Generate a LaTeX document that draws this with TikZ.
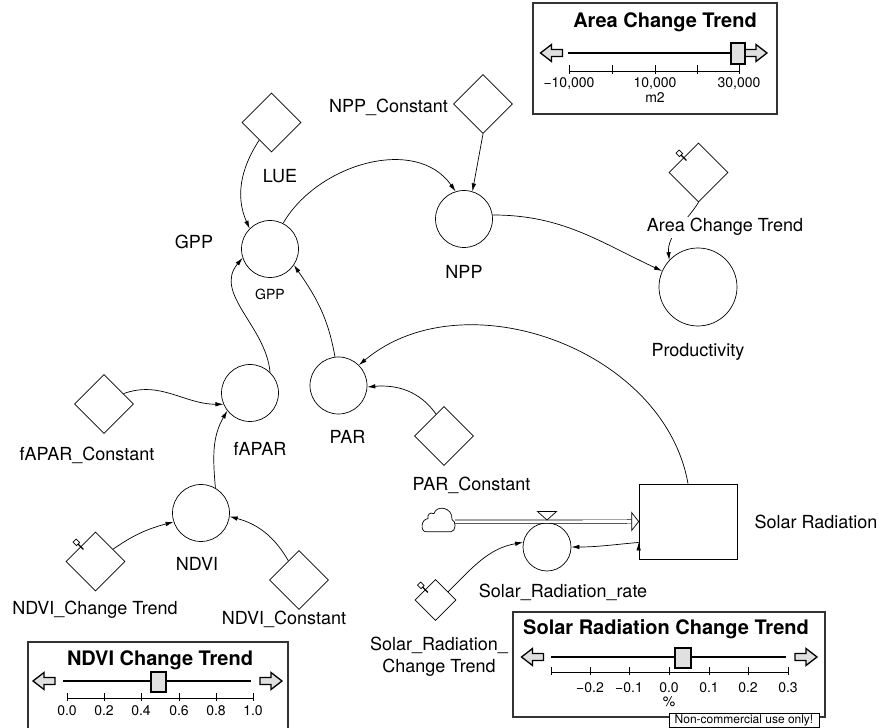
\documentclass[tikz,border=0pt]{standalone}
\usepackage{fontspec}
\setmainfont{TeX Gyre Heros}
\usetikzlibrary{shapes.geometric, positioning, arrows.meta}

\tikzset{
  auxvar/.style={circle, draw, minimum size=57pt, inner sep=0pt},
  constvar/.style={diamond, draw, minimum size=59pt, inner sep=0pt},
  stockbox/.style={rectangle, draw, minimum width=98pt, minimum height=75pt, inner sep=0pt},
  lbl/.style={font=\fontsize{18}{22}\selectfont, inner sep=1pt, anchor=base},
  paneltitle/.style={font=\bfseries\fontsize{20}{24}\selectfont, inner sep=0pt, anchor=base},
  ticklbl/.style={font=\fontsize{14}{16}\selectfont, inner sep=0pt, anchor=base},
  panel/.style={draw=black!80, line width=1.2pt},
  track/.style={line width=1.8pt},
  thumb/.style={draw, line width=1.5pt, fill=black!12},
  fatarrow/.pic={\draw[line width=1.3pt, fill=black!12] (-11,-3.5) -- (0,-3.5) -- (0,-8.5) -- (11,0) -- (0,8.5) -- (0,3.5) -- (-11,3.5) -- cycle;},
  tackmark/.pic={\draw[line width=1.3pt] (0,-4) -- (0,3.5); \draw (-2.2,3.5) rectangle (2.2,8.5);}
}

\begin{document}
\begin{tikzpicture}[x=1pt, y=1pt, line width=0.7pt, >={Latex[length=8pt,width=4.5pt]}]
\useasboundingbox (0,0) rectangle (887,728);

% converters
\node[auxvar] (gpp) at (270,479) {};
\node[auxvar] (npp) at (464,509) {};
\node[auxvar, minimum size=78pt] (prod) at (698,441) {};
\node[auxvar] (fapar) at (250,335) {};
\node[auxvar] (par) at (338.5,342.5) {};
\node[auxvar] (ndvi) at (201,215) {};
\node[auxvar, minimum size=48pt] (rate) at (547,181) {};
\node[stockbox] (stock) at (688,206.5) {};

% constants
\node[constvar] (lue) at (271.5,605.5) {};
\node[constvar] (nppc) at (483,624) {};
\node[constvar] (areac) at (698.5,555.5) {};
\node[constvar] (faparc) at (104,324) {};
\node[constvar] (ndvict) at (95.5,166.5) {};
\node[constvar] (ndvic) at (299,148) {};
\node[constvar] (parc) at (444,292) {};
\node[constvar, minimum size=41pt] (solarct) at (435.5,128) {};

% slider-driven inputs
\pic[rotate=45] at (areac.north west) {tackmark};
\pic[rotate=45] at (ndvict.north west) {tackmark};
\pic[rotate=45] at (solarct.north west) {tackmark};

% inflow into the stock
\draw[shift={(422,196.3)}] (4,0) -- (29,0) .. controls (34,0) and (34.5,11) .. (30,12)
  .. controls (31,25) and (14,27) .. (12,18) .. controls (8,20) and (5,17) .. (6,13)
  .. controls (-1,13) and (-2,0) .. (4,0) -- cycle;
\coordinate (src) at (455,206.3);
\draw[double, double distance=2.6pt] (src) -- ([xshift=-7pt]stock.west);
\draw[fill=white] ([shift={(-7,9)}]stock.west) -- (stock.west) -- ([shift={(-7,-9)}]stock.west) -- cycle;
\draw[fill=white] (537.5,216.5) -- (556.5,216.5) -- (547,208) -- cycle;

% links
\draw[->] (lue.235) edge[out=237, in=114] (gpp.135)
  (gpp.63) edge[out=60, in=125] (npp.107)
  (nppc.south) edge (npp.73)
  (npp.8) edge[out=0, in=155] (prod.156)
  (areac.south) edge[out=238, in=95] (prod.137)
  (fapar.46) edge[out=95, in=230] (gpp.198)
  (par.97) edge[out=100, in=-55] (gpp.-34)
  (stock.north) edge[out=100, in=40] (par.45)
  (parc.110) edge[out=125, in=5] (par.-3)
  (faparc.28) edge[out=20, in=180] (fapar.203)
  (ndvi.60) edge[out=95, in=240] (fapar.218)
  (ndvict.35) edge[out=35, in=195] (ndvi.198)
  (ndvic.119) edge[out=120, in=-15] (ndvi.-7)
  (solarct.33) edge[out=45, in=190] (rate.169)
  (stock.203) edge[out=185, in=0] (rate.east);

% names
\node[lbl] (luelbl) at (280,545) {LUE};
\node[lbl] (nppclbl) at (388.5,615) {NPP\_Constant};
\node[lbl] (gpplbl) at (194,479) {GPP};
\node[font=\fontsize{14}{16}\selectfont, inner sep=1pt, below=10pt of gpp] (gppunit) {GPP};
\node[lbl, below=16.5pt of npp] (npplbl) {NPP};
\node[lbl, fill=white, inner sep=2pt] (areaclbl) at (725,496) {Area Change Trend};
\node[lbl, below=16pt of prod] (prodlbl) {Productivity};
\node[lbl] (faparclbl) at (87,267) {fAPAR\_Constant};
\node[lbl, below=19.5pt of fapar, xshift=10pt] (faparlbl) {fAPAR};
\node[lbl, below=15pt of par, xshift=9pt] (parlbl) {PAR};
\node[lbl, below=14pt of ndvi, xshift=-4pt] (ndvilbl) {NDVI};
\node[lbl] (ndvictlbl) at (95,113) {NDVI\_Change Trend};
\node[lbl] (ndviclbl) at (284,103) {NDVI\_Constant};
\node[lbl] (parclbl) at (471.5,237) {PAR\_Constant};
\node[lbl, right=16pt of stock] (stocklbl) {Solar Radiation};
\node[lbl] (ratelbl) at (563,130) {Solar\_Radiation\_rate};
\node[lbl, anchor=north, align=center] (solarctlbl) at (439,92) {Solar\_Radiation\_\\Change Trend};

% slider: area change trend
\draw[panel] (533,614) rectangle (777,725);
\node[paneltitle] (areatitle) at (665,700) {Area Change Trend};
\pic[rotate=180] at (551.5,675) {fatarrow};
\draw[track] (568,675) -- (731,675);
\pic at (756,675) {fatarrow};
\draw (569,657) -- (739,657);
\foreach \x in {569,612,655,697,739} \draw (\x,654) -- (\x,663);
\draw[thumb] (731,664) rectangle (745,685);
\node[ticklbl] (areamin) at (569,640) {−10,000};
\node[ticklbl] (areamid) at (655,640) {10,000};
\node[ticklbl] (areamax) at (739,640) {30,000};
\node[ticklbl] (areaunit) at (655,625.5) {m2};

% slider: solar radiation change trend
\draw[panel] (513,11) rectangle (825,116);
\node[paneltitle] (solartitle) at (666,93) {Solar Radiation Change Trend};
\pic[rotate=180] at (532.5,71) {fatarrow};
\draw[track] (551,71) -- (786,71);
\pic at (806,71) {fatarrow};
\draw (551,56) -- (788,56);
\foreach \x in {551,590,629,669,709,748,788} \draw (\x,53) -- (\x,61);
\draw[thumb] (675,60) rectangle (691,80);
\foreach \x/\v [count=\i] in {590/−0.2, 629/−0.1, 669/0.0, 709/0.1, 748/0.2, 788/0.3}
  \node[ticklbl] (solartick\i) at (\x,35) {\v};
\node[ticklbl] (solarunit) at (669,21) {\%};
\node[draw, fill=white, inner sep=0pt, minimum width=150pt, minimum height=14pt,
  font=\fontsize{12}{14}\selectfont] (note) at (744,8) {Non-commercial use only!};

% slider: ndvi change trend
\draw[panel] (28,-5) rectangle (288,86);
\node[paneltitle] (ndvititle) at (160,62) {NDVI Change Trend};
\pic[rotate=180] at (44,47) {fatarrow};
\draw[track] (63,47) -- (251,47);
\pic at (271,47) {fatarrow};
\draw (67,30) -- (253,30);
\foreach \x in {67,104,141,179,216,253} \draw (\x,27) -- (\x,35);
\draw[thumb] (151,36) rectangle (166,56);
\foreach \x/\v [count=\i] in {67/0.0, 104/0.2, 141/0.4, 179/0.6, 216/0.8, 253/1.0}
  \node[ticklbl] (ndvitick\i) at (\x,12) {\v};
\end{tikzpicture}
\end{document}
